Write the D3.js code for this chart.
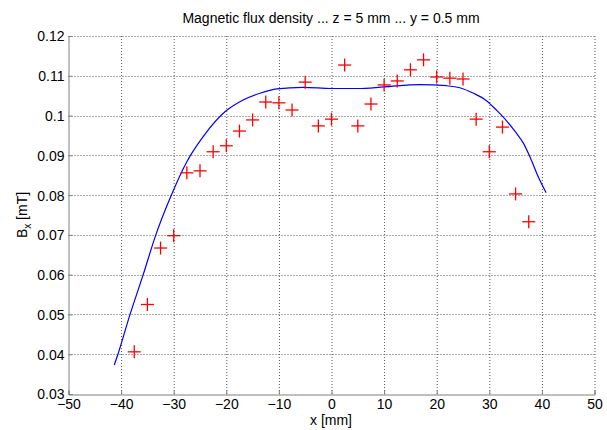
<!DOCTYPE html>
<html><head><meta charset="utf-8">
<script src="https://cdn.jsdelivr.net/npm/d3@7"></script>
<style>
body{margin:0;background:#fff;}
svg{display:block;}
text{font-family:"Liberation Sans Narrow","Arial Narrow","Liberation Sans",Arial,sans-serif;fill:#000;}
</style></head><body>
<svg id="c" width="607" height="430"></svg>
<script>
const title = "Magnetic flux density ... z = 5 mm ... y = 0.5 mm";
const xTicks = [-50,-40,-30,-20,-10,0,10,20,30,40,50];
const yTicks = [0.03,0.04,0.05,0.06,0.07,0.08,0.09,0.1,0.11,0.12];
const measX = [-37.5,-35,-32.5,-30,-27.5,-25,-22.5,-20,-17.5,-15,-12.5,-10,-7.5,-5,-2.5,0,2.5,5,7.5,10,12.5,15,17.5,20,22.5,25,27.5,30,32.5,35,37.5];
const measY = [0.0406,0.0525,0.0667,0.0698,0.0856,0.0861,0.0909,0.0924,0.0961,0.0989,0.1034,0.1032,0.1014,0.1084,0.0974,0.0991,0.1127,0.0974,0.1029,0.1077,0.1087,0.1115,0.1140,0.1097,0.1094,0.1092,0.0991,0.0909,0.0971,0.0803,0.0733];
const fitX = [-41.3,-40.6,-38.3,-35.8,-33.4,-30.7,-27.5,-24.4,-20.2,-16.8,-13.6,-10.4,-5.4,0,5,10,16.8,21.9,24.4,27,29.4,31.4,33.2,34.9,36.5,37.7,39.3,40.8];
const fitY = [0.0373,0.0400,0.0500,0.0600,0.0700,0.0792,0.0884,0.0947,0.1010,0.1039,0.1056,0.1067,0.1071,0.1068,0.1068,0.1072,0.1078,0.1075,0.1070,0.1056,0.1038,0.1013,0.0988,0.0960,0.0930,0.0897,0.0846,0.0806];

const L=68.5,R=594.5,T=36,B=394;
const svg=d3.select("#c");
const x=d3.scaleLinear().domain([-50,50]).range([L,R]);
const y=d3.scaleLinear().domain([0.03,0.12]).range([B,T]);

// grid
const g=svg.append("g");
g.selectAll(".vx").data(xTicks.slice(1)).join("line")
 .attr("x1",d=>x(d)+0.5).attr("x2",d=>x(d)+0.5).attr("y1",T).attr("y2",B)
 .attr("stroke","#555").attr("stroke-width",1).attr("stroke-dasharray","1,2");
g.selectAll(".hy").data(yTicks.slice(1)).join("line")
 .attr("y1",d=>Math.round(y(d))+0.5).attr("y2",d=>Math.round(y(d))+0.5).attr("x1",L).attr("x2",R)
 .attr("stroke","#555").attr("stroke-width",1).attr("stroke-dasharray","1,2");

// axes
const xa=svg.append("g").attr("transform",`translate(0,${B+0.5})`)
 .call(d3.axisBottom(x).tickValues(xTicks).tickSize(-4).tickPadding(8).tickFormat(d3.format("d")));
const ya=svg.append("g").attr("transform",`translate(${L},0)`)
 .call(d3.axisLeft(y).tickValues(yTicks).tickSize(-4).tickPadding(4).tickFormat(d=>String(+d.toFixed(2))));
[xa,ya].forEach(a=>{
 a.select(".domain").attr("stroke","#808080");
 a.selectAll(".tick line").attr("stroke","#808080");
 a.selectAll(".tick text").attr("font-size",14).attr("font-family",null);
});
xa.selectAll(".tick text").attr("y",14).attr("dy",0);
ya.selectAll(".tick text").attr("dy","0.35em");

// fit curve
svg.append("path")
 .datum(fitX.map((v,i)=>[v,fitY[i]]))
 .attr("d",d3.line().x(d=>x(d[0])).y(d=>y(d[1])).curve(d3.curveMonotoneX))
 .attr("fill","none").attr("stroke","#0000ff").attr("stroke-width",1.2);

// markers
const s=6.5;
const mk=svg.append("g").attr("stroke","#ff0000").attr("stroke-width",1.3);
measX.forEach((v,i)=>{
 const cx=x(v),cy=y(measY[i]);
 mk.append("line").attr("x1",cx-s).attr("x2",cx+s).attr("y1",cy).attr("y2",cy);
 mk.append("line").attr("x1",cx).attr("x2",cx).attr("y1",cy-s).attr("y2",cy+s);
});

// titles
svg.append("text").attr("x",331).attr("y",23).attr("text-anchor","middle").attr("font-size",14).text(title);
svg.append("text").attr("x",331).attr("y",425).attr("text-anchor","middle").attr("font-size",14).text("x [mm]");
const yl=svg.append("text").attr("transform","translate(27,215) rotate(-90)").attr("text-anchor","middle").attr("font-size",14);
yl.append("tspan").text("B");
yl.append("tspan").attr("font-size",10).attr("dy",4).text("x");
yl.append("tspan").attr("dy",-4).text(" [mT]");
</script></body></html>
